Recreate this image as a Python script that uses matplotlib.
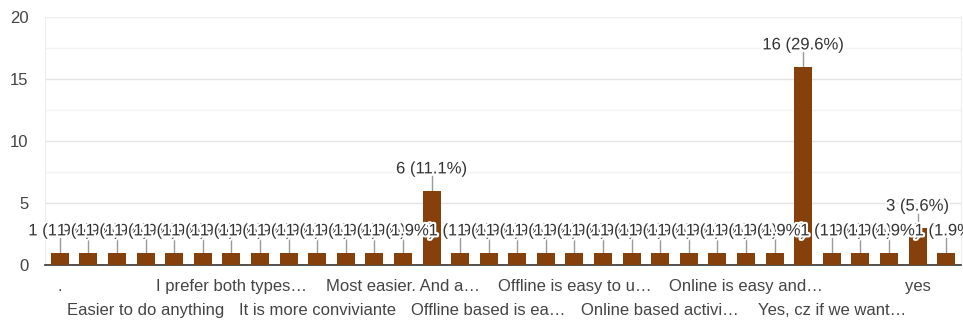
import matplotlib.pyplot as plt
import matplotlib.patheffects as pe
from matplotlib.ticker import MultipleLocator

plt.rcParams["font.family"] = ["Liberation Sans", "DejaVu Sans"]

# answer categories (only every third one gets a visible label)
labels = [
    ".", "", "", "Easier to do anything", "", "", "I prefer both types…", "", "",
    "It is more conviviante", "", "", "Most easier. And a…", "", "",
    "Offline based is ea…", "", "", "Offline is easy to u…", "", "",
    "Online based activi…", "", "", "Online is easy and…", "", "",
    "Yes, cz if we want…", "", "", "yes", "",
]
counts = [1] * 13 + [6] + [1] * 12 + [16] + [1] * 3 + [3, 1]
total = sum(counts)

bar_color = "#86400b"
fs = 12

fig = plt.figure(figsize=(9.63, 3.22), dpi=100)
ax = fig.add_axes([45 / 963, 1 - 265 / 322, 916 / 963, 248 / 322])

x = list(range(len(counts)))
ax.bar(x, counts, width=0.63, color=bar_color, zorder=3)

# value labels with leader lines
for i, c in enumerate(counts):
    ax.plot([i, i], [c, c + 1.15], color="#999999", lw=1, zorder=2)
    ax.text(i, c + 1.75, f"{c} ({c / total * 100:.1f}%)", ha="center", va="center",
            fontsize=fs, color="#333333", zorder=4,
            path_effects=[pe.withStroke(linewidth=3, foreground="white")])

ax.set_xlim(-0.52, len(counts) - 0.48)
ax.set_ylim(0, 20)
ax.yaxis.set_major_locator(MultipleLocator(5))
ax.yaxis.set_minor_locator(MultipleLocator(2.5))
ax.grid(axis="y", which="major", color="#e4e4e4", lw=1, zorder=0)
ax.grid(axis="y", which="minor", color="#f3f3f3", lw=1, zorder=0)

# two staggered rows of category labels
ticks = [i for i, l in enumerate(labels) if l]
tick_text = [labels[i] if k % 2 == 0 else "\n" + labels[i] for k, i in enumerate(ticks)]
ax.set_xticks(ticks)
ax.set_xticklabels(tick_text, fontsize=fs, color="#444444", linespacing=1.75)
ax.tick_params(axis="x", length=0, pad=10)
ax.tick_params(axis="y", which="both", length=0, pad=12, labelsize=fs, labelcolor="#444444")

for s in ["left", "right", "top"]:
    ax.spines[s].set_color("#eeeeee")
ax.spines["bottom"].set_color("#333333")
ax.spines["bottom"].set_linewidth(1.2)

fig.savefig("out.png", dpi=100, facecolor="white")
